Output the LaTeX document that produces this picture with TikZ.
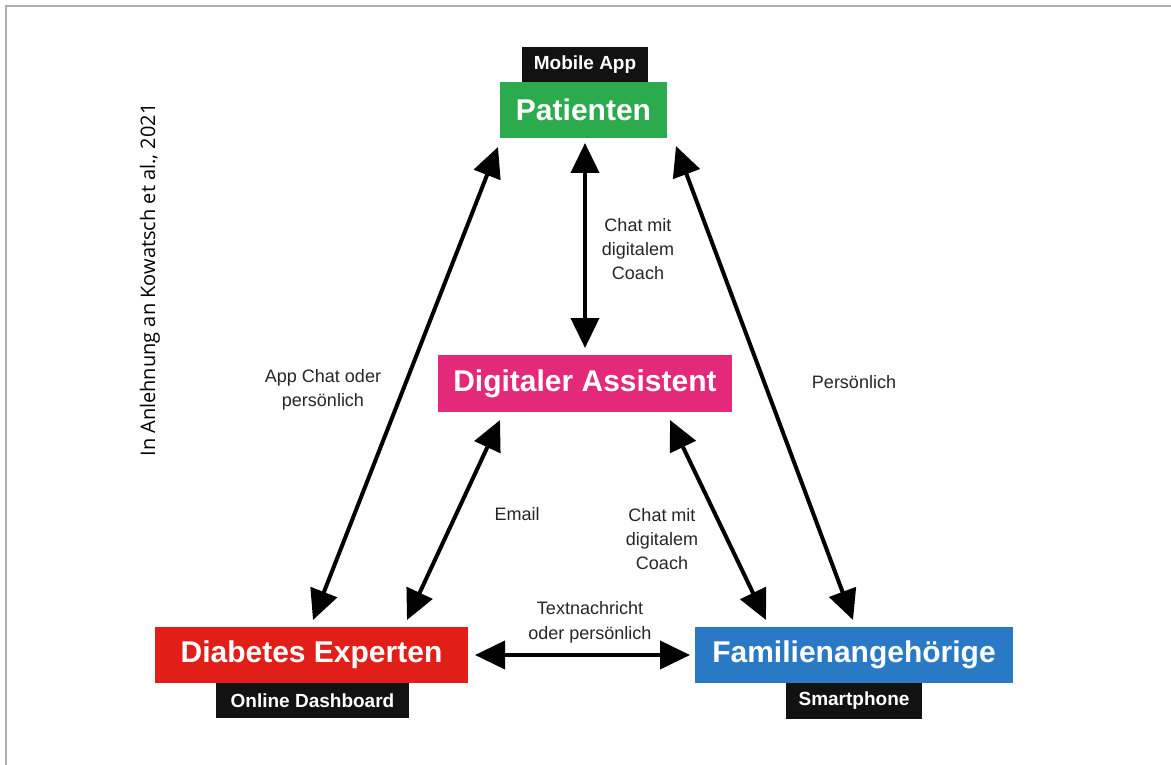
\documentclass[tikz,border=0pt]{standalone}
\usepackage{fontspec}
\setmainfont{Liberation Sans}
\newfontfamily\notefont{Open Sans}
\usetikzlibrary{arrows.meta}
\definecolor{cgreen}{RGB}{44,170,78}
\definecolor{cpink}{RGB}{228,40,122}
\definecolor{cred}{RGB}{226,30,24}
\definecolor{cblue}{RGB}{42,121,196}
\definecolor{cframe}{RGB}{176,176,176}
\definecolor{ctag}{RGB}{18,18,18}
\tikzset{
  mainbox/.style={inner sep=0pt, text=white, font=\fontsize{30}{36}\selectfont\bfseries},
  tagbox/.style={fill=ctag, inner sep=0pt, text=white, font=\fontsize{19}{22}\selectfont\bfseries},
  lbl/.style={align=center, font=\fontsize{18}{24}\selectfont, text=black!85},
  conn/.style={line width=4pt, {Triangle[length=30pt,width=28pt]}-{Triangle[length=30pt,width=28pt]}}
}
\begin{document}
\begin{tikzpicture}[x=1pt,y=-1pt]
\useasboundingbox (0,0) rectangle (1171,765);
\fill[white] (0,0) rectangle (1171,765);
\draw[cframe, line width=1.5pt] (6,765) -- (6,6) -- (1171,6);

% tags
\node[tagbox, minimum width=126pt, minimum height=35pt] (tagP) at (585,64.5) {Mobile App};
\node[tagbox, minimum width=193pt, minimum height=35pt] (tagD) at (312.5,700.5) {Online Dashboard};
\node[tagbox, minimum width=136pt, minimum height=36pt] (tagF) at (854,701) {Smartphone};

% main boxes
\node[mainbox, fill=cgreen, minimum width=167pt, minimum height=56pt] (P) at (583.5,110) {Patienten};
\node[mainbox, fill=cpink, minimum width=294pt, minimum height=57pt] (A) at (585,383.5) {Digitaler Assistent};
\node[mainbox, fill=cred, minimum width=313pt, minimum height=56pt] (D) at (311.5,655) {Diabetes Experten};
\node[mainbox, fill=cblue, minimum width=318pt, minimum height=56pt] (F) at (854,655) {Familienangehörige};

% arrow end points
\coordinate (pl) at (498,147);
\coordinate (pm) at (585,143);
\coordinate (pr) at (676,146);
\coordinate (am) at (585,348);
\coordinate (al) at (500,420);
\coordinate (ar) at (670,420);
\coordinate (dl) at (313,620);
\coordinate (dr) at (407,620);
\coordinate (dh) at (475,655);
\coordinate (fl) at (766,620);
\coordinate (fr) at (853,620);
\coordinate (fh) at (690,655);

\draw[conn] (pl) -- (dl);
\draw[conn] (pm) -- (am);
\draw[conn] (pr) -- (fr);
\draw[conn] (al) -- (dr);
\draw[conn] (ar) -- (fl);
\draw[conn] (dh) -- (fh);

% labels
\node[lbl] (l1) at (638,249) {Chat mit\\digitalem\\Coach};
\node[lbl] (l2) at (323,390) {App Chat oder\\persönlich};
\node[lbl] (l3) at (854,382) {Persönlich};
\node[lbl] (l4) at (517,514) {Email};
\node[lbl] (l5) at (662,539) {Chat mit\\digitalem\\Coach};
\node[lbl, font=\fontsize{18}{25}\selectfont] (l6) at (590,622) {Textnachricht\\oder persönlich};

\node[rotate=90, font=\notefont\fontsize{20}{24}\selectfont, text=black] (src) at (150,280) {In Anlehnung an Kowatsch et al., 2021};
\end{tikzpicture}
\end{document}
